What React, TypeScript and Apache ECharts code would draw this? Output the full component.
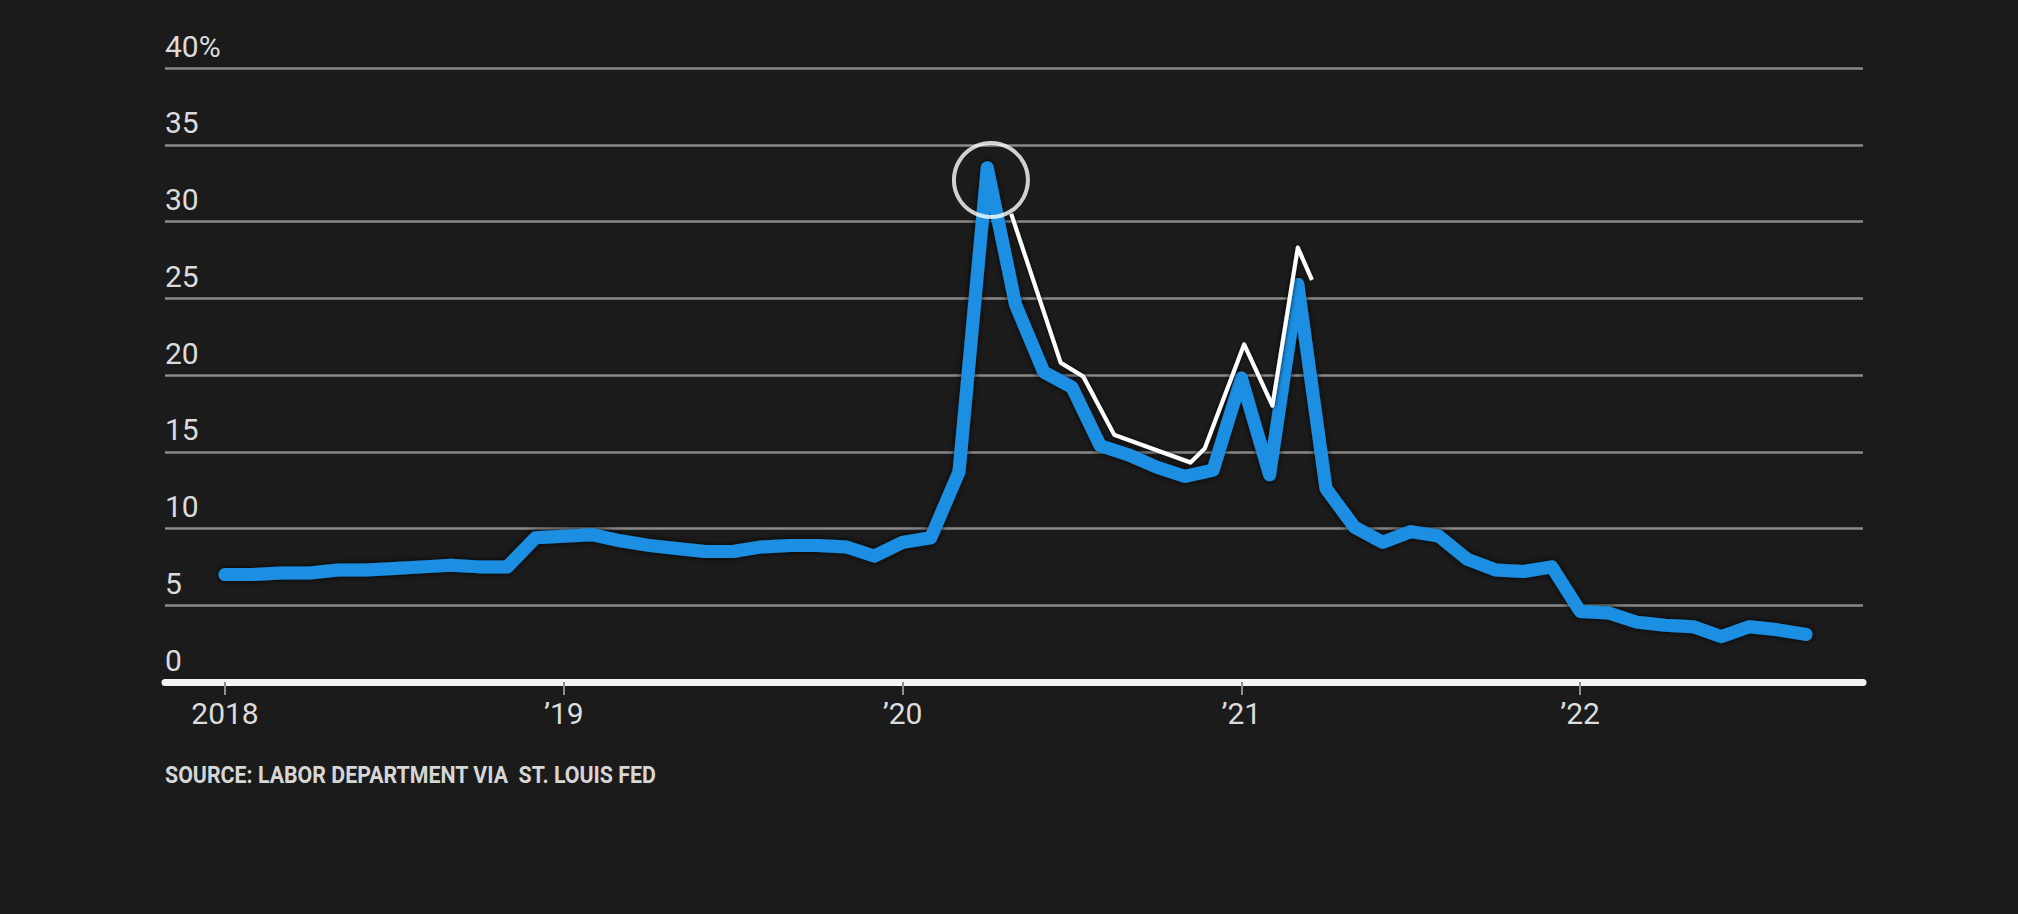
import React, { useEffect, useRef } from 'react';
import * as echarts from 'echarts';

// Monthly values, Jan 2018 (index 0) .. Sep 2022 (index 56), percent
const blueValues = [
  7.0, 7.0, 7.1, 7.1, 7.3, 7.3, 7.4, 7.5, 7.6, 7.5, 7.5, 9.4,
  9.5, 9.6, 9.2, 8.9, 8.7, 8.5, 8.5, 8.8, 8.9, 8.9, 8.8, 8.2,
  9.1, 9.4, 13.7, 33.5, 24.6, 20.2, 19.2, 15.4, 14.8, 14.0, 13.4, 13.8,
  19.8, 13.5, 25.9, 12.6, 10.1, 9.1, 9.8, 9.5, 8.0, 7.3, 7.2, 7.5,
  4.6, 4.5, 3.9, 3.7, 3.6, 2.95, 3.6, 3.4, 3.1,
];

// White (earlier estimate) line: month positions and values
const whiteMonths = [27.85, 29.6, 30.4, 31.5, 34.2, 34.7, 36.1, 37.1, 38.0, 38.5];
const whiteValues = [30.5, 20.8, 19.9, 16.1, 14.3, 15.2, 22.0, 18.0, 28.3, 26.2];

// Highlight circle around the peak (month, value)
const circlePoint = [27.13, 32.7];

// X ticks (months since Jan 2018) and labels
const yearTicks = [0, 12, 24, 36, 48];
const yearLabels = ['2018', '\u201919', '\u201920', '\u201921', '\u201922'];

// Y axis
const yMin = 0;
const yMax = 40;
const yStep = 5;
const xMin = -2.125;
const xMax = 58.02;

const sourceText = 'SOURCE: LABOR DEPARTMENT VIA  ST. LOUIS FED';

export default function App() {
  const ref = useRef<HTMLDivElement>(null);

  useEffect(() => {
    if (!ref.current) return;
    const chart = echarts.init(ref.current, null, { renderer: 'svg' });
    const labelFont = 'Roboto, "Liberation Sans", sans-serif';
    chart.setOption({
      animation: false,
      backgroundColor: '#1b1b1b',
      grid: { left: 165, right: 155, top: 68, bottom: 232 },
      xAxis: {
        type: 'value',
        min: xMin,
        max: xMax,
        splitLine: { show: false },
        axisLine: { show: true, onZero: false, lineStyle: { color: '#f4f4f4', width: 7 } },
        axisTick: {
          show: true,
          customValues: yearTicks,
          length: 13,
          lineStyle: { color: '#8f8f8f', width: 2 },
        },
        axisLabel: {
          customValues: yearTicks,
          formatter: (v: number) => {
            const i = yearTicks.indexOf(Math.round(v));
            return i >= 0 ? yearLabels[i] : '';
          },
          color: '#dcdcdc',
          fontSize: 30,
          fontFamily: labelFont,
          margin: 16,
        },
      },
      yAxis: {
        type: 'value',
        min: yMin,
        max: yMax,
        interval: yStep,
        axisLine: { show: false },
        axisTick: { show: false },
        splitLine: { show: true, lineStyle: { color: '#8a8a8a', width: 2.5 } },
        axisLabel: {
          inside: true,
          margin: 0,
          verticalAlign: 'bottom',
          padding: [0, 0, 7, 0],
          color: '#dcdcdc',
          fontSize: 30,
          fontFamily: labelFont,
          formatter: (v: number) => (v === yMax ? v + '%' : String(v)),
        },
      },
      graphic: [
        {
          type: 'text',
          x: 165,
          y: 763,
          scaleX: 0.89,
          style: {
            text: sourceText,
            fill: '#d6d6d6',
            font: 'bold 24px Roboto, "Liberation Sans", sans-serif',
            verticalAlign: 'top',
          },
        },
      ],
      series: [
        {
          type: 'line',
          data: blueValues.map((v, i) => [i, v]),
          symbol: 'none',
          showSymbol: false,
          silent: true,
          z: 3,
          lineStyle: {
            color: '#1a8fe2',
            width: 13,
            cap: 'round',
            join: 'round',
            shadowColor: 'rgba(0,0,0,0.9)',
            shadowBlur: 6,
          },
        },
        {
          type: 'line',
          data: whiteMonths.map((m, i) => [m, whiteValues[i]]),
          symbol: 'none',
          showSymbol: false,
          silent: true,
          z: 4,
          lineStyle: {
            color: '#ffffff',
            width: 4,
            cap: 'butt',
            join: 'round',
            shadowColor: 'rgba(0,0,0,0.9)',
            shadowBlur: 4,
          },
        },
        {
          type: 'scatter',
          data: [circlePoint],
          symbol: 'circle',
          symbolSize: 74,
          silent: true,
          z: 5,
          itemStyle: { color: 'rgba(0,0,0,0)', borderColor: '#ffffff', borderWidth: 4 },
        },
      ],
    });
    return () => chart.dispose();
  }, []);

  return (
    <div
      ref={ref}
      style={{ position: 'fixed', left: 0, top: 0, width: '2018px', height: '914px' }}
    />
  );
}
